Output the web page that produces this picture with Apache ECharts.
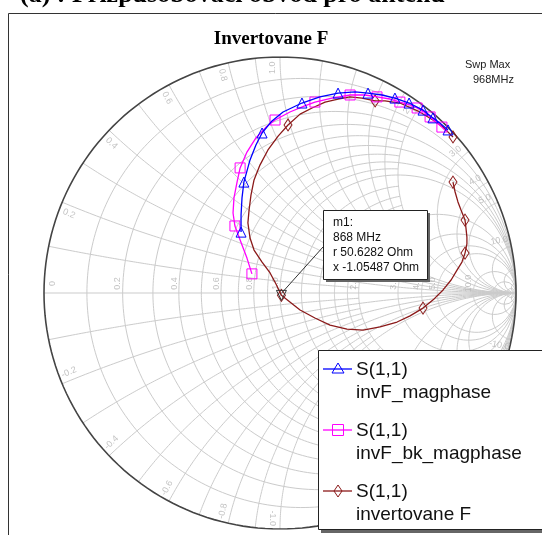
<!DOCTYPE html>
<html><head><meta charset="utf-8">
<script src="https://cdn.jsdelivr.net/npm/echarts@6/dist/echarts.min.js"></script>
<style>html,body{margin:0;padding:0;background:#fff}#c{width:542px;height:535px}</style>
</head><body><div id="c"></div>
<script>
// ---------- DATA (reflection coefficient S(1,1): real / imaginary parts) ----------
const seriesNames = ['invF_magphase', 'invF_bk_magphase', 'invertovane F'];
const sweepMax = '968MHz';

const invF_re = [-0.165,-0.165,-0.161,-0.153,-0.127,-0.102,-0.076,-0.034,0.013,0.093,0.169,0.246,0.318,0.373,0.432,0.487,0.547,0.606,0.648,0.682,0.712];
const invF_im = [0.258,0.331,0.403,0.470,0.564,0.627,0.678,0.729,0.767,0.805,0.831,0.847,0.852,0.847,0.839,0.826,0.805,0.775,0.742,0.716,0.691];
const invF_markers = [0,3,6,9,11,13,15,16,17,18,20];

const invFbk_re = [-0.119,-0.140,-0.169,-0.191,-0.199,-0.195,-0.182,-0.169,-0.140,-0.102,-0.059,-0.021,0.042,0.102,0.148,0.220,0.297,0.360,0.411,0.466,0.508,0.551,0.581,0.610,0.636,0.661,0.686,0.703];
const invFbk_im = [0.081,0.148,0.225,0.284,0.339,0.403,0.470,0.530,0.597,0.657,0.703,0.733,0.767,0.792,0.809,0.826,0.839,0.839,0.831,0.822,0.809,0.797,0.784,0.767,0.746,0.725,0.703,0.686];
const invFbk_markers = [0,3,7,11,14,16,18,20,22,24,26];

const invert_re = [0.733,0.691,0.648,0.585,0.508,0.445,0.403,0.347,0.297,0.246,0.191,0.136,0.085,0.034,-0.008,-0.051,-0.085,-0.110,-0.123,-0.131,-0.136,-0.127,-0.110,-0.076,-0.042,-0.017,0.006,0.042,0.085,0.148,0.212,0.284,0.352,0.424,0.496,0.551,0.606,0.653,0.691,0.725,0.750,0.771,0.784,0.792,0.792,0.788,0.784,0.767,0.754,0.742,0.733];
const invert_im = [0.661,0.703,0.733,0.771,0.805,0.814,0.814,0.826,0.831,0.822,0.809,0.784,0.758,0.712,0.665,0.606,0.542,0.479,0.415,0.352,0.297,0.233,0.182,0.131,0.085,0.038,-0.010,-0.038,-0.072,-0.106,-0.136,-0.153,-0.157,-0.144,-0.123,-0.097,-0.064,-0.025,0.013,0.055,0.097,0.131,0.169,0.208,0.237,0.275,0.309,0.352,0.386,0.428,0.470];
const invert_markers = [0,6,13,26,36,42,46,50];

// marker m1
const m1Index = 26;
const m1Lines = ['m1:', '868 MHz', 'r 50.6282 Ohm', 'x -1.05487 Ohm'];

// Smith grid tick labels
const rTickLabels = [0, 0.2, 0.4, 0.6, 0.8, 1.0, 2.0, 3.0, 4.0, 5.0, 10.0];
const xTickLabels = [0.2, 0.4, 0.6, 0.8, 1.0, 2.0, 3.0, 4.0, 5.0, 10.0];
// grid circles: [value, limit of the other coordinate]
const INF = Infinity;
const rGrid = [[0.1,2],[0.2,INF],[0.3,2],[0.4,INF],[0.5,2],[0.6,INF],[0.7,2],[0.8,INF],[0.9,2],[1,INF],[1.2,2],[1.4,2],[1.6,2],[1.8,2],[2,INF],[3,INF],[4,INF],[5,INF],[10,INF],[20,INF],[50,INF]];
const xGrid = [[0.1,2],[0.2,INF],[0.3,2],[0.4,INF],[0.5,2],[0.6,INF],[0.7,2],[0.8,INF],[0.9,2],[1,INF],[1.2,2],[1.4,2],[1.6,2],[1.8,2],[2,INF],[3,INF],[4,INF],[5,INF],[10,INF],[20,INF],[50,INF]];

// ---------- helpers ----------
function z2g(r, x) {
  const den = (r + 1) * (r + 1) + x * x;
  return [(r * r + x * x - 1) / den, (2 * x) / den];
}
function rCircle(r, xl) {
  const tmax = xl === INF ? Math.PI / 2 - 1e-7 : Math.atan(xl);
  const pts = [], N = 200;
  for (let i = 0; i <= N; i++) { const t = -tmax + 2 * tmax * i / N; pts.push(z2g(r, Math.tan(t))); }
  return pts;
}
function xArc(x, rl) {
  const smax = rl === INF ? Math.PI / 2 - 1e-7 : Math.atan(rl);
  const pts = [], N = 160;
  for (let i = 0; i <= N; i++) { const s = smax * i / N; pts.push(z2g(Math.tan(s), x)); }
  return pts;
}
const gridCurves = [];
rGrid.forEach(([r, xl]) => gridCurves.push({ coords: rCircle(r, xl) }));
xGrid.forEach(([x, rl]) => { gridCurves.push({ coords: xArc(x, rl) }); gridCurves.push({ coords: xArc(-x, rl) }); });
gridCurves.push({ coords: [[-1, 0], [1, 0]] });

const GRID_COLOR = '#cbcbcb';
const LABEL_COLOR = '#b4b4b4';
const labelItems = [];
rTickLabels.forEach(r => {
  const g = z2g(r, 0);
  const dx = r === 0 ? 0.035 : -0.02;
  labelItems.push({ value: [g[0] + dx, g[1] + 0.04],
    label: { formatter: r === 0 ? '0' : r.toFixed(1), rotate: 90 } });
});
xTickLabels.forEach(x => {
  [x, -x].forEach(xx => {
    const g = z2g(0, xx);
    const ang0 = Math.atan2(g[1], g[0]);
    const ang = ang0 + (xx > 0 ? 1 : -1) * 2 * Math.PI / 180;
    const rad = 0.955;
    let deg = ang0 * 180 / Math.PI;
    if (deg > 90) deg -= 180; if (deg < -90) deg += 180;
    labelItems.push({ value: [rad * Math.cos(ang), rad * Math.sin(ang)],
      label: { formatter: (xx < 0 ? '-' : '') + x.toFixed(1), rotate: deg } });
  });
});

function traceData(re, im, markers, sym) {
  return re.map((v, i) => ({ value: [v, im[i]], symbol: markers.indexOf(i) >= 0 ? sym : 'none' }));
}

const BLUE = '#0000ff', MAG = '#ff00ff', BROWN = '#8b1a1a';

const chart = echarts.init(document.getElementById('c'), null, { renderer: 'canvas' });
const option = {
  animation: false,
  backgroundColor: '#ffffff',
  title: { text: 'Invertovane F', left: 'center', top: 25,
    textStyle: { fontFamily: 'Liberation Serif', fontWeight: 'bold', fontSize: 19, color: '#000' } },
  grid: { left: 44, top: 57, width: 472, height: 472, containLabel: false },
  xAxis: { type: 'value', min: -1, max: 1, show: false },
  yAxis: { type: 'value', min: -1, max: 1, show: false },
  series: [
    { type: 'lines', coordinateSystem: 'cartesian2d', polyline: true, silent: true, z: 1,
      lineStyle: { color: GRID_COLOR, width: 1, opacity: 1 }, data: gridCurves },
    { type: 'lines', coordinateSystem: 'cartesian2d', polyline: true, silent: true, z: 2,
      lineStyle: { color: '#444', width: 1.6, opacity: 1 }, data: [{ coords: rCircle(0, INF) }] },
    { type: 'scatter', symbolSize: 0, silent: true, z: 2,
      label: { show: true, position: 'inside', color: LABEL_COLOR, fontSize: 9, fontFamily: 'Liberation Sans' },
      data: labelItems },
    { name: seriesNames[0], type: 'line', z: 5, data: traceData(invF_re, invF_im, invF_markers, 'triangle'),
      symbolSize: 10, lineStyle: { color: BLUE, width: 1.3 },
      itemStyle: { color: 'rgba(0,0,0,0)', borderColor: BLUE, borderWidth: 1 } },
    { name: seriesNames[1], type: 'line', z: 4, data: traceData(invFbk_re, invFbk_im, invFbk_markers, 'rect'),
      symbolSize: 10, lineStyle: { color: MAG, width: 1.3 },
      itemStyle: { color: 'rgba(0,0,0,0)', borderColor: MAG, borderWidth: 1 } },
    { name: seriesNames[2], type: 'line', z: 3, data: traceData(invert_re, invert_im, invert_markers, 'diamond'),
      symbolSize: [8, 12], lineStyle: { color: BROWN, width: 1.3 },
      itemStyle: { color: 'rgba(0,0,0,0)', borderColor: BROWN, borderWidth: 1 },
      markPoint: { silent: true, symbol: 'triangle', symbolRotate: 180, symbolSize: 10,
        itemStyle: { color: 'rgba(0,0,0,0)', borderColor: '#333', borderWidth: 1 }, label: { show: false },
        data: [{ coord: [invert_re[m1Index], invert_im[m1Index]] }] } }
  ]
};
chart.setOption(option);

// ---------- annotations (marker box, legend, texts) ----------
const mp = chart.convertToPixel({ gridIndex: 0 }, [invert_re[m1Index], invert_im[m1Index]]);
const g = [];
// page caption (cut off at the top)
g.push({ type: 'text', silent: true, style: { text: '(a) : Přizpůsobovací obvod pro anténu', x: 20, y: -5,
  font: 'bold 26px "Liberation Serif"', fill: '#000', verticalAlign: 'middle' } });
// outer frame
g.push({ type: 'rect', silent: true, shape: { x: 8.5, y: 13.5, width: 700, height: 700 }, style: { fill: 'none', stroke: '#333', lineWidth: 1 } });
// sweep max
g.push({ type: 'text', silent: true, style: { text: 'Swp Max', x: 465, y: 65, font: '11px "Liberation Sans"', fill: '#222', verticalAlign: 'middle' } });
g.push({ type: 'text', silent: true, style: { text: sweepMax, x: 473, y: 80, font: '11px "Liberation Sans"', fill: '#222', verticalAlign: 'middle' } });
// marker box
const bx = 323, by = 210, bw = 104, bh = 69;
g.push({ type: 'line', silent: true, z: 10, shape: { x1: mp[0], y1: mp[1] - 2, x2: bx, y2: by + 37 }, style: { stroke: '#333', lineWidth: 1 } });
g.push({ type: 'rect', silent: true, z: 10, shape: { x: bx + 3, y: by + 3, width: bw, height: bh }, style: { fill: '#666' } });
g.push({ type: 'rect', silent: true, z: 11, shape: { x: bx + 0.5, y: by + 0.5, width: bw, height: bh }, style: { fill: '#fff', stroke: '#222', lineWidth: 1 } });
m1Lines.forEach((t, i) => g.push({ type: 'text', silent: true, z: 12,
  style: { text: t, x: bx + 10, y: by + 13 + i * 15, font: '12px "Liberation Sans"', fill: '#111', verticalAlign: 'middle' } }));
// legend
const lx = 318, ly = 350;
g.push({ type: 'rect', silent: true, z: 10, shape: { x: lx + 3, y: ly + 3, width: 260, height: 180 }, style: { fill: '#666' } });
g.push({ type: 'rect', silent: true, z: 11, shape: { x: lx + 0.5, y: ly + 0.5, width: 260, height: 179 }, style: { fill: '#fff', stroke: '#222', lineWidth: 1 } });
const legColors = [BLUE, MAG, BROWN];
const legY = [369, 430, 491];
legY.forEach((yy, i) => {
  const c = legColors[i];
  g.push({ type: 'line', silent: true, z: 12, shape: { x1: 323, y1: yy, x2: 352, y2: yy }, style: { stroke: c, lineWidth: 1.3 } });
  let shape;
  if (i === 0) shape = { type: 'polygon', shape: { points: [[338, yy - 6], [332, yy + 4], [344, yy + 4]] } };
  else if (i === 1) shape = { type: 'rect', shape: { x: 332.5, y: yy - 5.5, width: 11, height: 11 } };
  else shape = { type: 'polygon', shape: { points: [[338, yy - 6], [342, yy], [338, yy + 6], [334, yy]] } };
  shape.silent = true; shape.z = 13; shape.style = { fill: 'none', stroke: c, lineWidth: 1 };
  g.push(shape);
  g.push({ type: 'text', silent: true, z: 12, style: { text: 'S(1,1)', x: 356, y: yy + 1, font: '19px "Liberation Sans"', fill: '#111', verticalAlign: 'middle' } });
  g.push({ type: 'text', silent: true, z: 12, style: { text: seriesNames[i], x: 356, y: yy + 24, font: '19px "Liberation Sans"', fill: '#111', verticalAlign: 'middle' } });
});
chart.setOption({ graphic: g });
</script></body></html>
